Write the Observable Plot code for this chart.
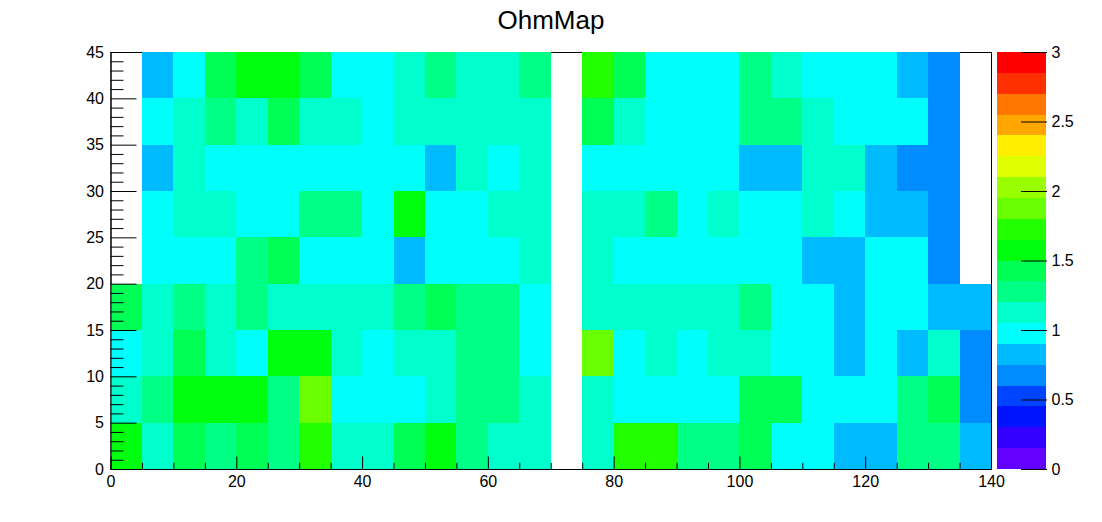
<!DOCTYPE html>
<html>
<head>
<meta charset="utf-8">
<script src="https://cdn.jsdelivr.net/npm/d3@7"></script>
<script src="https://cdn.jsdelivr.net/npm/@observablehq/plot@0.6"></script>
<style>
html, body { margin: 0; padding: 0; background: #fff; }
#wrap { position: relative; width: 1102px; height: 522px; overflow: hidden; font-family: "Liberation Sans", Arial, Helvetica, sans-serif; }
#title { position: absolute; left: 0; top: 5px; width: 1102px; text-align: center; font-size: 26px; color: #000; }
#main { position: absolute; left: 0; top: 0; }
#bar { position: absolute; left: 997px; top: 0; }
</style>
</head>
<body>
<div id="wrap"><div id="main"></div><div id="bar"></div><div id="title">OhmMap</div></div>
<script>
// ---- data ----
const xEdges = [0,5,10,15,20,25,30,35,40,45,50,55,60,65,70,75,80,85,90,95,100,105,110,115,120,125,130,135,140];
const yEdges = [0,5,10,15,20,25,30,35,40,45];

// rows of bin contents (Ohm), bottom row first; null = empty bin
const row0 = [1.57,1.12,1.42,1.27,1.42,1.27,1.72,1.12,1.12,1.42,1.57,1.27,1.12,1.12, null,1.12,1.72,1.72,1.27,1.27,1.42,0.97,0.97,0.83,0.83,1.27,1.27,0.83];
const row1 = [1.12,1.27,1.57,1.57,1.57,1.27,1.87,0.97,0.97,0.97,1.12,1.27,1.27,1.12, null,1.12,0.97,0.97,0.97,0.97,1.42,1.42,0.97,0.97,0.97,1.27,1.42,0.68];
const row2 = [0.97,1.12,1.42,1.12,0.97,1.57,1.57,1.12,0.97,1.12,1.12,1.27,1.27,0.97, null,1.87,0.97,1.12,0.97,1.12,1.12,0.97,0.97,0.83,0.97,0.83,1.12,0.68];
const row3 = [1.42,1.12,1.27,1.12,1.27,1.12,1.12,1.12,1.12,1.27,1.42,1.27,1.27,0.97, null,1.12,1.12,1.12,1.12,1.12,1.27,0.97,0.97,0.83,0.97,0.97,0.83,0.83];
const row4 = [null,0.97,0.97,0.97,1.27,1.42,0.97,0.97,0.97,0.83,0.97,0.97,0.97,1.12, null,1.12,0.97,0.97,0.97,0.97,0.97,0.97,0.83,0.83,0.97,0.97,0.68,null];
const row5 = [null,0.97,1.12,1.12,0.97,0.97,1.27,1.27,0.97,1.57,0.97,0.97,1.12,1.12, null,1.12,1.12,1.27,0.97,1.12,0.97,0.97,1.12,0.97,0.83,0.83,0.68,null];
const row6 = [null,0.83,1.12,0.97,0.97,0.97,0.97,0.97,0.97,0.97,0.83,1.12,0.97,1.12, null,0.97,0.97,0.97,0.97,0.97,0.83,0.83,1.12,1.12,0.83,0.68,0.68,null];
const row7 = [null,0.97,1.12,1.27,1.12,1.42,1.12,1.12,0.97,1.12,1.12,1.12,1.12,1.12, null,1.42,1.12,0.97,0.97,0.97,1.27,1.27,1.12,0.97,0.97,0.97,0.68,null];
const row8 = [null,0.83,0.97,1.42,1.57,1.57,1.42,0.97,0.97,1.12,1.27,1.12,1.12,1.27, null,1.72,1.42,0.97,0.97,0.97,1.27,1.12,0.97,0.97,0.97,0.83,0.68,null];
const rows = [row0,row1,row2,row3,row4,row5,row6,row7,row8];

// contour levels (20 contours from 0 to 3) and palette
const levels = [0,0.15,0.3,0.45,0.6,0.75,0.9,1.05,1.2,1.35,1.5,1.65,1.8,1.95,2.1,2.25,2.4,2.55,2.7,2.85,3];
const palette = ["#6300ff","#3300ff","#0014ff","#0044ff","#008bff","#00bbff","#00fffc","#00ffcc","#00ff85","#00ff55",
                 "#00ff0e","#22ff00","#69ff00","#99ff00","#e0ff00","#ffee00","#ffa700","#ff7700","#ff3000","#ff0000"];

// tick labels
const xMajor = [0,20,40,60,80,100,120,140];
const xMinor = [5,10,15,25,30,35,45,50,55,65,70,75,85,90,95,105,110,115,125,130,135];
const yMajor = [0,5,10,15,20,25,30,35,40,45];
const yMinor = [1,2,3,4,6,7,8,9,11,12,13,14,16,17,18,19,21,22,23,24,26,27,28,29,31,32,33,34,36,37,38,39,41,42,43,44];
const zTicks = [0,0.5,1,1.5,2,2.5,3];
const zLabels = ["0","0.5","1","1.5","2","2.5","3"];

// ---- build tables ----
const cells = [];
rows.forEach((r, j) => r.forEach((v, i) => {
  if (v != null) cells.push({x1: xEdges[i], x2: xEdges[i + 1], y1: yEdges[j], y2: yEdges[j + 1], v});
}));
const bins = palette.map((c, k) => ({lo: levels[k], hi: levels[k + 1]}));
const colorScale = {type: "threshold", domain: levels.slice(1, -1), range: palette};
const style = {fontFamily: "'Liberation Sans', Arial, Helvetica, sans-serif", fontSize: "16px", color: "#000", background: "transparent", overflow: "visible"};
const blank = () => "";

const main = Plot.plot({
  width: 1102, height: 522,
  marginLeft: 110.5, marginRight: 111, marginTop: 52, marginBottom: 53,
  x: {domain: [0, 140]},
  y: {domain: [0, 45]},
  color: colorScale,
  style,
  marks: [
    Plot.frame({stroke: "#000"}),
    Plot.rect(cells, {x1: "x1", x2: "x2", y1: "y1", y2: "y2", fill: "v", shapeRendering: "crispEdges"}),
    Plot.ruleX([0], {stroke: "#000"}),
    Plot.ruleY([0], {stroke: "#000"}),
    Plot.axisX(xMinor, {tickSize: -6.25, tickFormat: blank, label: null}),
    Plot.axisX(xMajor, {tickSize: -12.5, tickFormat: blank, label: null}),
    Plot.axisX(xMajor, {tickSize: 0, tickPadding: 6, label: null}),
    Plot.axisY(yMinor, {tickSize: -13, tickFormat: blank, label: null}),
    Plot.axisY(yMajor, {tickSize: -26, tickFormat: blank, label: null}),
    Plot.axisY(yMajor, {tickSize: 0, tickPadding: 7, label: null})
  ]
});
document.getElementById("main").append(main);

const bar = Plot.plot({
  width: 105, height: 522,
  marginLeft: 0, marginRight: 56, marginTop: 52, marginBottom: 53,
  x: {domain: [0, 1], axis: null},
  y: {domain: [0, 3]},
  color: colorScale,
  style,
  marks: [
    Plot.rect(bins, {x1: 0, x2: 1, y1: "lo", y2: "hi", fill: d => (d.lo + d.hi) / 2, shapeRendering: "crispEdges"}),
    Plot.axisY(zTicks, {anchor: "right", tickSize: -26, tickFormat: blank, label: null}),
    Plot.axisY(zTicks, {anchor: "right", tickSize: 0, tickPadding: 5, label: null, tickFormat: (d, i) => zLabels[i]})
  ]
});
document.getElementById("bar").append(bar);
</script>
</body>
</html>
